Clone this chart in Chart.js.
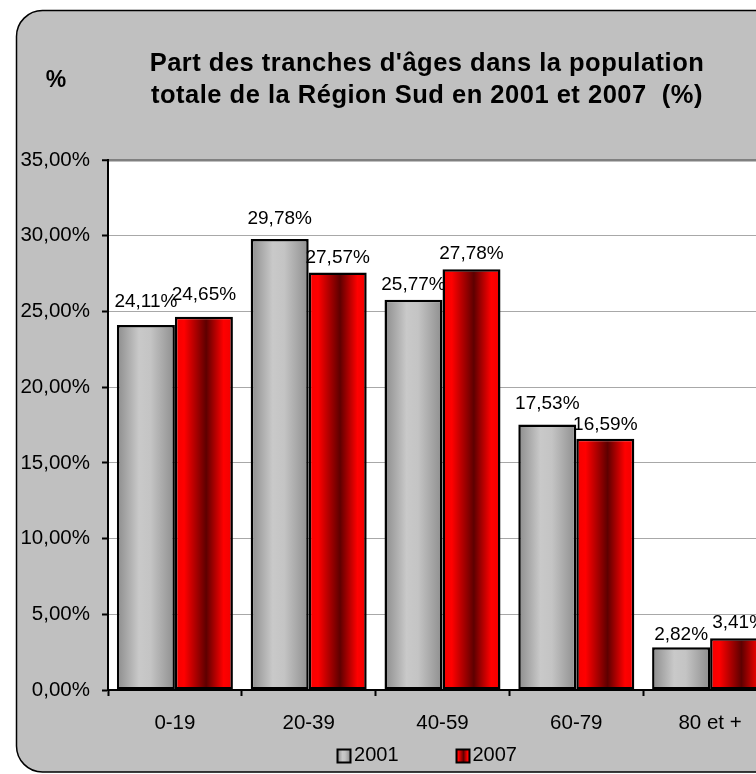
<!DOCTYPE html>
<html>
<head>
<meta charset="utf-8">
<script src="https://cdn.jsdelivr.net/npm/chart.js@4/dist/chart.umd.min.js"></script>
<style>
  html, body { margin: 0; padding: 0; background: #ffffff; overflow: hidden; width: 756px; height: 774px; }
  #wrap { position: absolute; left: 0; top: 0; width: 854px; height: 774px; }
</style>
</head>
<body>
<div id="wrap"><canvas id="c" width="854" height="774"></canvas></div>
<script>
// ---- data ----
const categories = ['0-19', '20-39', '40-59', '60-79', '80 et +'];
const seriesNames = ['2001', '2007'];
const values2001 = [24.11, 29.78, 25.77, 17.53, 2.82];
const values2007 = [24.65, 27.57, 27.78, 16.59, 3.41];
const yTickLabels = ['0,00%', '5,00%', '10,00%', '15,00%', '20,00%', '25,00%', '30,00%', '35,00%'];
const titleLines = ["Part des tranches d'âges dans la population", "totale de la Région Sud en 2001 et 2007  (%)"];
const axisUnit = '%';

// ---- styling (not data) ----
const FONT = "'Liberation Sans', Arial, Helvetica, sans-serif";
const labelGap = [[18, 15, 10, 16, 7], [17, 10, 10, 9, 10]];

function fmt(v) { return v.toFixed(2).replace('.', ',') + '%'; }

function grayGrad(ctx, x0, x1) {
  const g = ctx.createLinearGradient(x0, 0, x1, 0);
  g.addColorStop(0, '#8c8c8c');
  g.addColorStop(0.38, '#c9c9c9');
  g.addColorStop(0.58, '#c4c4c4');
  g.addColorStop(1, '#8e8e8e');
  return g;
}
function redGrad(ctx, x0, x1) {
  const g = ctx.createLinearGradient(x0, 0, x1, 0);
  g.addColorStop(0, '#f40000');
  g.addColorStop(0.16, '#ff0000');
  g.addColorStop(0.54, '#5e0000');
  g.addColorStop(0.84, '#ff0000');
  g.addColorStop(1, '#f00000');
  return g;
}
const gradFns = [grayGrad, redGrad];

const decorPlugin = {
  id: 'decor',
  beforeDraw(chart) {
    const ctx = chart.ctx;
    const ca = chart.chartArea;
    ctx.save();
    ctx.fillStyle = '#ffffff';
    ctx.fillRect(0, 0, chart.width, chart.height);
    // rounded outer frame
    const x = 16.5, y = 10.5, w = 900, h = 761.5, r = 26;
    ctx.beginPath();
    ctx.moveTo(x + r, y);
    ctx.lineTo(x + w, y);
    ctx.lineTo(x + w, y + h);
    ctx.lineTo(x + r, y + h);
    ctx.arcTo(x, y + h, x, y + h - r, r);
    ctx.lineTo(x, y + r);
    ctx.arcTo(x, y, x + r, y, r);
    ctx.closePath();
    ctx.fillStyle = '#c0c0c0';
    ctx.fill();
    ctx.lineWidth = 1.5;
    ctx.strokeStyle = '#000000';
    ctx.stroke();
    // plot area
    ctx.fillStyle = '#ffffff';
    ctx.fillRect(ca.left, ca.top, ca.right - ca.left, ca.bottom - ca.top);
    // title
    ctx.fillStyle = '#000000';
    ctx.font = 'bold 25.5px ' + FONT;
    ctx.textAlign = 'center';
    ctx.textBaseline = 'middle';
    try { ctx.letterSpacing = '0.5px'; } catch (e) {}
    ctx.fillText(titleLines[0], 427, 64);
    ctx.fillText(titleLines[1], 427, 96);
    try { ctx.letterSpacing = '0px'; } catch (e) {}
    ctx.font = 'bold 23px ' + FONT;
    ctx.fillText(axisUnit, 56, 81);
    ctx.restore();
  },
  beforeDatasetsDraw(chart) {
    const ctx = chart.ctx;
    chart.data.datasets.forEach((ds, d) => {
      const meta = chart.getDatasetMeta(d);
      meta.data.forEach((el) => {
        const g = gradFns[d](ctx, el.x - el.width / 2, el.x + el.width / 2);
        el.options = Object.assign({}, el.options, { backgroundColor: g, borderColor: '#000000' });
      });
    });
  },
  afterDatasetsDraw(chart) {
    const ctx = chart.ctx;
    ctx.save();
    ctx.fillStyle = '#000000';
    ctx.font = '19px ' + FONT;
    ctx.textAlign = 'center';
    ctx.textBaseline = 'alphabetic';
    chart.data.datasets.forEach((ds, d) => {
      const meta = chart.getDatasetMeta(d);
      meta.data.forEach((el, i) => {
        ctx.fillText(fmt(ds.data[i]), el.x, el.y - labelGap[d][i]);
      });
    });
    ctx.restore();
  },
  afterDraw(chart) {
    // legend
    const ctx = chart.ctx;
    ctx.save();
    ctx.font = '20px ' + FONT;
    ctx.textBaseline = 'middle';
    ctx.textAlign = 'left';
    const box = 13, gap = 4, between = 57;
    const items = chart.data.datasets.map(ds => ({ label: ds.label, w: box + gap + ctx.measureText(ds.label).width }));
    const total = items.reduce((s, it) => s + it.w, 0) + between * (items.length - 1);
    let x = 427 - total / 2;
    const cy = 755.5;
    items.forEach((it, d) => {
      const bx = Math.round(x) + 0.5, by = Math.round(cy - box / 2) + 0.5;
      ctx.fillStyle = gradFns[d](ctx, bx, bx + box);
      ctx.fillRect(bx, by, box, box);
      ctx.lineWidth = 2;
      ctx.strokeStyle = '#000000';
      ctx.strokeRect(bx, by, box, box);
      ctx.fillStyle = '#000000';
      ctx.fillText(it.label, x + box + gap, cy);
      x += it.w + between;
    });
    ctx.restore();
  }
};

new Chart(document.getElementById('c'), {
  type: 'bar',
  data: {
    labels: categories,
    datasets: [
      { label: seriesNames[0], data: values2001, borderColor: '#000000', backgroundColor: '#c0c0c0' },
      { label: seriesNames[1], data: values2007, borderColor: '#000000', backgroundColor: '#ff0000' }
    ]
  },
  options: {
    responsive: false,
    animation: false,
    events: [],
    layout: { padding: { top: 160, left: 0, right: 77, bottom: 0 } },
    datasets: {
      bar: {
        categoryPercentage: 0.867,
        barPercentage: 1,
        borderWidth: 2.5,
        borderSkipped: false
      }
    },
    plugins: {
      legend: { display: false },
      title: { display: false },
      tooltip: { enabled: false },
      colors: { enabled: false }
    },
    scales: {
      x: {
        grid: { drawOnChartArea: false, drawTicks: true, tickLength: 6, color: '#000000', tickWidth: 2, offset: true },
        border: { color: '#000000', width: 2 },
        ticks: { color: '#000000', font: { family: FONT, size: 20.5 }, padding: 15, maxRotation: 0, autoSkip: false },
        afterFit(s) { s.height = 84; }
      },
      y: {
        min: 0, max: 35,
        ticks: {
          stepSize: 5,
          color: '#000000',
          font: { family: FONT, size: 20.5 },
          padding: 12,
          callback: (v, i) => yTickLabels[i]
        },
        grid: {
          color: (c) => (c.tick && c.tick.value === 35) ? '#808080' : '#a8a8a8',
          lineWidth: (c) => (c.tick && c.tick.value === 35) ? 2.5 : 1,
          tickLength: 6,
          tickColor: '#000000',
          tickWidth: 2
        },
        border: { color: '#000000', width: 2 },
        afterFit(s) { s.width = 108; }
      }
    }
  },
  plugins: [decorPlugin]
});
</script>
</body>
</html>
